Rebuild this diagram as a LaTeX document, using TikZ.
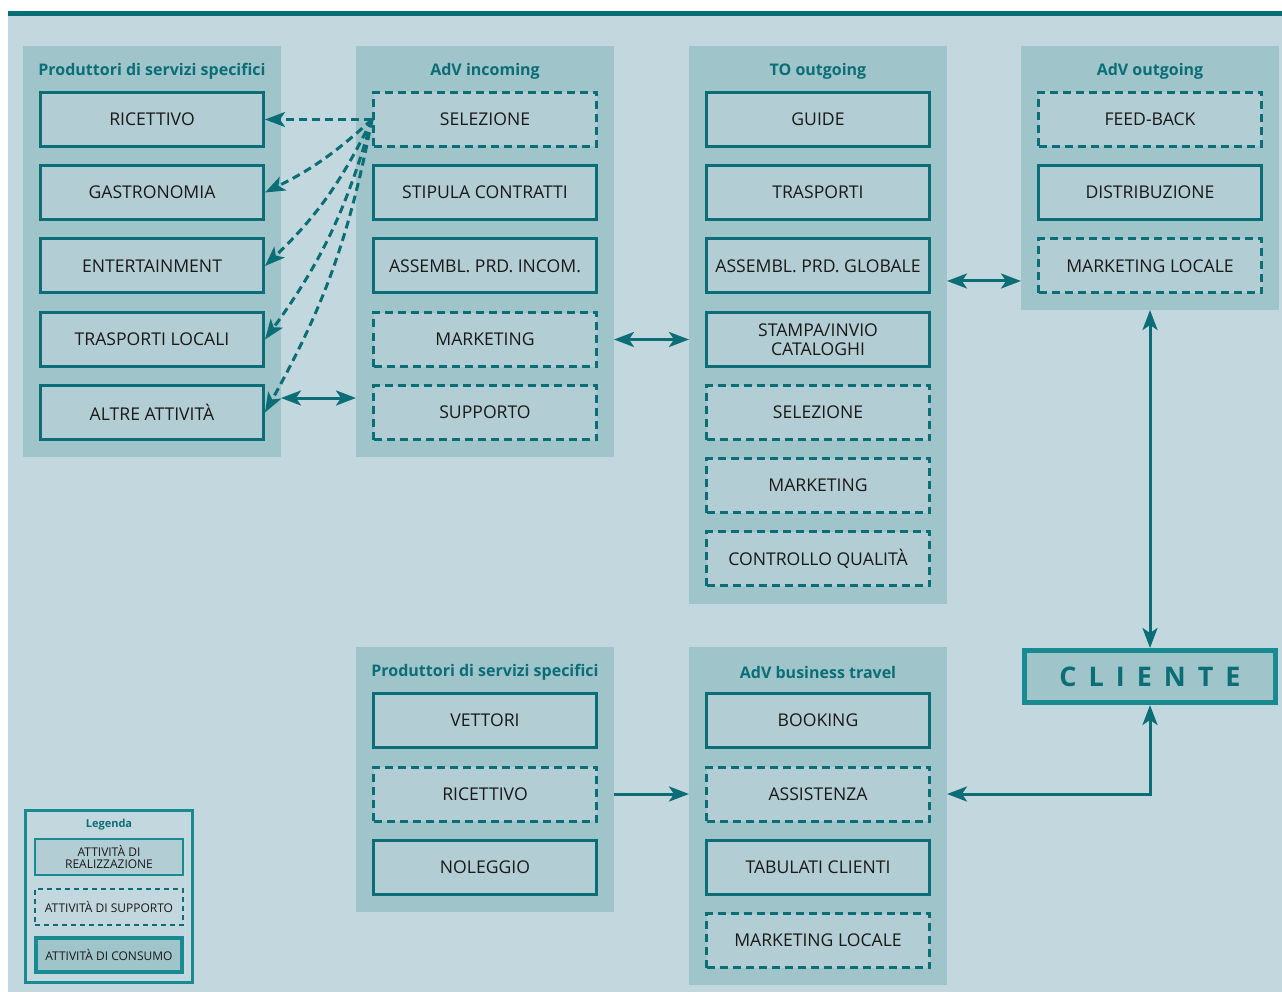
\documentclass[tikz,border=0pt]{standalone}
\usepackage{fontspec}
\setmainfont{Open Sans}
\usetikzlibrary{arrows.meta}
\definecolor{bgc}{HTML}{C3D8DE}
\definecolor{panelc}{HTML}{9FC4CA}
\definecolor{boxc}{HTML}{B2CDD3}
\definecolor{tealc}{HTML}{0B6E76}
\definecolor{tealL}{HTML}{178A92}
\definecolor{txtc}{HTML}{1A1A1A}
\begin{document}
\begin{tikzpicture}[x=1pt,y=-1pt,
  panel/.style={fill=panelc, draw=none, inner sep=0pt, outer sep=0pt, anchor=north west},
  real/.style={draw=tealc, line width=3pt, fill=boxc, minimum width=223pt, minimum height=54pt,
    inner sep=0pt, font=\fontsize{17.6}{19}\selectfont, text=txtc, align=center},
  supp/.style={real, dash pattern=on 8pt off 5pt},
  ptitle/.style={font=\bfseries\fontsize{16}{18}\selectfont, text=tealc, inner sep=0pt},
  tip/.tip={Stealth[length=20pt,width=15pt,inset=5pt]},
  arr/.style={draw=tealc, line width=3pt, -tip},
  darr/.style={draw=tealc, line width=3pt, tip-tip},
  darrd/.style={arr, dash pattern=on 8pt off 5pt},
  lgbox/.style={draw=tealL, line width=2pt, fill=boxc, minimum width=148pt, minimum height=36pt,
    inner sep=0pt, font=\fontsize{12}{13}\selectfont, text=txtc, align=center},
]
\useasboundingbox (0,0) rectangle (1282,992);
\fill[white] (0,0) rectangle (1282,992);
\fill[bgc] (8,16) rectangle (1282,992);
\fill[tealc] (8,11) rectangle (1282,16);

% panels
\node[panel, minimum width=258pt, minimum height=411pt] (p1) at (23,46) {};
\node[panel, minimum width=258pt, minimum height=411pt] (p2) at (356,46) {};
\node[panel, minimum width=258pt, minimum height=558pt] (p3) at (689,46) {};
\node[panel, minimum width=258pt, minimum height=264pt] (p4) at (1021,46) {};
\node[panel, minimum width=258pt, minimum height=265pt] (p5) at (356,647) {};
\node[panel, minimum width=258pt, minimum height=338pt] (p6) at (689,647) {};

% titles
\node[ptitle] (t1) at (152,71) {Produttori di servizi specifici};
\node[ptitle] (t2) at (485,71) {AdV incoming};
\node[ptitle] (t3) at (818,71) {TO outgoing};
\node[ptitle] (t4) at (1150,71) {AdV outgoing};
\node[ptitle] (t5) at (485,672) {Produttori di servizi specifici};
\node[ptitle] (t6) at (818,672) {AdV business travel};

% column 1
\node[real] (a1) at (152,119.5) {RICETTIVO};
\node[real] (a2) at (152,192.5) {GASTRONOMIA};
\node[real] (a3) at (152,266) {ENTERTAINMENT};
\node[real] (a4) at (152,339.5) {TRASPORTI LOCALI};
\node[real] (a5) at (152,412.5) {ALTRE ATTIVITÀ};

% column 2
\node[supp] (b1) at (485,119.5) {SELEZIONE};
\node[real] (b2) at (485,192.5) {STIPULA CONTRATTI};
\node[real] (b3) at (485,266) {ASSEMBL. PRD. INCOM.};
\node[supp] (b4) at (485,339.5) {MARKETING};
\node[supp] (b5) at (485,412.5) {SUPPORTO};

% column 3
\node[real] (c1) at (818,119.5) {GUIDE};
\node[real] (c2) at (818,192.5) {TRASPORTI};
\node[real] (c3) at (818,266) {ASSEMBL. PRD. GLOBALE};
\node[real] (c4) at (818,339.5) {STAMPA/INVIO\\CATALOGHI};
\node[supp] (c5) at (818,412.5) {SELEZIONE};
\node[supp] (c6) at (818,485.5) {MARKETING};
\node[supp] (c7) at (818,558.5) {CONTROLLO QUALITÀ};

% column 4
\node[supp] (d1) at (1150,119.5) {FEED-BACK};
\node[real] (d2) at (1150,192.5) {DISTRIBUZIONE};
\node[supp] (d3) at (1150,266) {MARKETING LOCALE};

% bottom columns
\node[real] (e1) at (485,720.5) {VETTORI};
\node[supp] (e2) at (485,794) {RICETTIVO};
\node[real] (e3) at (485,867.5) {NOLEGGIO};

\node[real] (f1) at (818,720.5) {BOOKING};
\node[supp] (f2) at (818,794) {ASSISTENZA};
\node[real] (f3) at (818,867.5) {TABULATI CLIENTI};
\node[supp] (f4) at (818,940.5) {MARKETING LOCALE};

% cliente
\node[draw=tealL, line width=5pt, fill=panelc, minimum width=251pt, minimum height=52pt, inner sep=0pt,
  text=tealc, font=\bfseries\fontsize{27}{30}\selectfont] (cl) at (1150,676.5)
  {C\hspace{12pt}L\hspace{12pt}I\hspace{12pt}E\hspace{12pt}N\hspace{12pt}T\hspace{12pt}E};

% connectors
\draw[darrd] (b1.west) -- (a1.east);
\draw[darrd] (b1.west) to[bend left=8] (a2.east);
\draw[darrd] (b1.west) to[bend left=10] (a3.east);
\draw[darrd] (b1.west) to[bend left=10] (a4.east);
\draw[darrd] (b1.west) to[bend left=9] (a5.east);
\draw[darr] (p1.east |- 0,398) -- (p2.west |- 0,398);
\draw[darr] (p2.east |- b4) -- (p3.west |- b4);
\draw[darr] (p3.east |- 0,281) -- (p4.west |- 0,281);
\draw[darr] (p4.south) -- (cl.north);
\draw[arr] (p5.east |- e2) -- (p6.west |- f2);
\draw[darr] (p6.east |- f2) -| (cl.south);

% legend
\node[draw=tealL, line width=3pt, minimum width=167pt, minimum height=172pt, inner sep=0pt] (lg) at (109,896.5) {};
\node[font=\bfseries\fontsize{11}{13}\selectfont, text=tealc, inner sep=0pt] (lgt) at (109,825) {Legenda};
\node[lgbox] (l1) at (109,857) {ATTIVITÀ DI\\[-1pt]REALIZZAZIONE};
\node[lgbox, fill=none, draw=tealc, dash pattern=on 5pt off 4pt] (l2) at (109,906.5) {ATTIVITÀ DI SUPPORTO};
\node[lgbox, fill=panelc, line width=4pt, minimum width=146pt, minimum height=34pt] (l3) at (109,955) {ATTIVITÀ DI CONSUMO};
\end{tikzpicture}
\end{document}
